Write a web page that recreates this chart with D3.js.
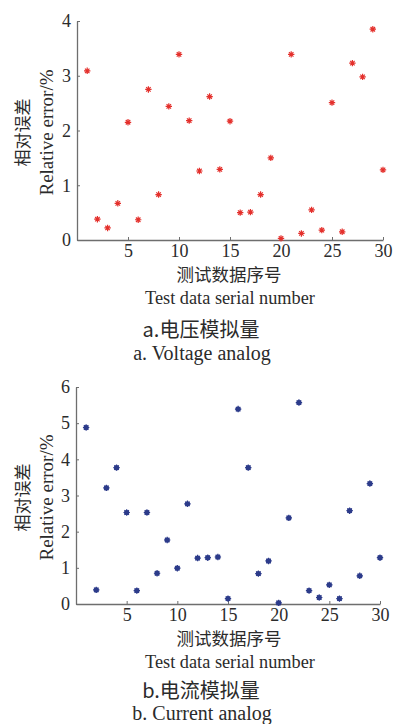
<!DOCTYPE html>
<html>
<head>
<meta charset="utf-8">
<script src="https://cdn.jsdelivr.net/npm/d3@7"></script>
<style>
  body { margin: 0; background: #fff; }
</style>
</head>
<body>
<div id="chart"></div>
<script>
// serial numbers 1..30
var serial = [1,2,3,4,5,6,7,8,9,10,11,12,13,14,15,16,17,18,19,20,21,22,23,24,25,26,27,28,29,30];

// voltage analog relative error (%)
var voltageErr = [3.09,0.38,0.22,0.67,2.15,0.37,2.75,0.83,2.44,3.39,
                  2.18,1.26,2.62,1.29,2.17,0.50,0.51,0.83,1.50,0.03,
                  3.39,0.12,0.55,0.18,2.51,0.15,3.23,2.98,3.85,1.28];

// current analog relative error (%)
var currentErr = [4.88,0.39,3.21,3.77,2.53,0.37,2.53,0.85,1.77,0.99,
                  2.77,1.27,1.28,1.30,0.15,5.39,3.77,0.84,1.19,0.03,
                  2.38,5.57,0.37,0.18,0.53,0.15,2.58,0.78,3.33,1.28];

var xTicks = [5, 10, 15, 20, 25, 30];
var voltTicks = [0, 1, 2, 3, 4];
var currTicks = [0, 1, 2, 3, 4, 5, 6];

var serif = "'Liberation Serif', 'Times New Roman', serif";
var cjk = "'Noto Sans CJK SC', sans-serif";
var textColor = "#2b2b2b";

var svg = d3.select("#chart").append("svg")
    .attr("width", 395)
    .attr("height", 724);

function addText(g, font, size, x, y, str) {
    return g.append("text")
        .attr("x", x).attr("y", y)
        .attr("text-anchor", "middle")
        .style("font-family", font)
        .style("font-size", size)
        .style("fill", textColor)
        .text(str);
}

function drawPanel(opts) {
    var x = d3.scaleLinear().domain([0, 30]).range([opts.left, opts.right]);
    var y = d3.scaleLinear().domain([0, opts.ymax]).range([opts.bottom, opts.top]);
    var g = svg.append("g");

    // axes (MATLAB-like inward ticks)
    var xa = g.append("g")
        .attr("transform", "translate(0," + opts.bottom + ")")
        .call(d3.axisBottom(x).tickValues(xTicks).tickFormat(d3.format("d"))
              .tickSize(-3).tickPadding(3).tickSizeOuter(0));
    var ya = g.append("g")
        .attr("transform", "translate(" + opts.left + ",0)")
        .call(d3.axisLeft(y).tickValues(opts.ticks).tickFormat(d3.format("d"))
              .tickSize(-3).tickPadding(6).tickSizeOuter(0));
    [xa, ya].forEach(function(a) {
        a.attr("font-family", null).attr("font-size", null);
        a.select(".domain").attr("stroke", "#6e6e6e").attr("stroke-width", 1.3);
        a.selectAll(".tick line").attr("stroke", "#6e6e6e");
        a.selectAll(".tick text")
            .style("font-family", serif)
            .style("font-size", "18px")
            .style("fill", textColor);
    });
    xa.selectAll(".tick text").attr("dy", "0.78em");

    // points
    var pts = g.append("g").selectAll("g")
        .data(serial)
        .enter()
        .append("g")
        .attr("transform", function(d, i) { return "translate(" + x(d) + "," + y(opts.values[i]) + ")"; });

    if (opts.fillDot) {
        pts.append("circle").attr("r", 2.6).attr("fill", opts.color);
    }
    var r = 3.2;
    pts.append("path")
        .attr("d", "M" + (-r) + ",0L" + r + ",0M0," + (-r) + "L0," + r +
             "M" + (-r * 0.7) + "," + (-r * 0.7) + "L" + (r * 0.7) + "," + (r * 0.7) +
             "M" + (-r * 0.7) + "," + (r * 0.7) + "L" + (r * 0.7) + "," + (-r * 0.7))
        .attr("stroke", opts.color)
        .attr("stroke-width", 1.2)
        .attr("fill", "none");

    // y labels
    var cy = (opts.top + opts.bottom) / 2 + 2;
    addText(g, cjk, "17px", 0, 0, "相对误差")
        .attr("transform", "translate(29," + cy + ") rotate(-90)");
    addText(g, serif, "19px", 0, 0, "Relative error/%")
        .attr("transform", "translate(53," + cy + ") rotate(-90)");

    // x labels and captions
    addText(g, cjk, "17.5px", 229, opts.bottom + 41, "测试数据序号");
    addText(g, serif, "18.3px", 230, opts.bottom + 64, "Test data serial number");
    addText(g, cjk, "20px", 201, opts.bottom + opts.capGap, opts.capCn);
    addText(g, serif, "20px", 202, opts.bottom + opts.capGap + opts.capGap2, opts.capEn);
}

drawPanel({
    left: 77, right: 383, top: 21, bottom: 240, ymax: 4, ticks: voltTicks,
    values: voltageErr, color: "#e4302c", fillDot: false,
    capGap: 97, capGap2: 23, capCn: "a.电压模拟量", capEn: "a. Voltage analog"
});

drawPanel({
    left: 76, right: 380, top: 387, bottom: 604, ymax: 6, ticks: currTicks,
    values: currentErr, color: "#2c3b8a", fillDot: true,
    capGap: 94, capGap2: 22, capCn: "b.电流模拟量", capEn: "b. Current analog"
});
</script>
</body>
</html>
